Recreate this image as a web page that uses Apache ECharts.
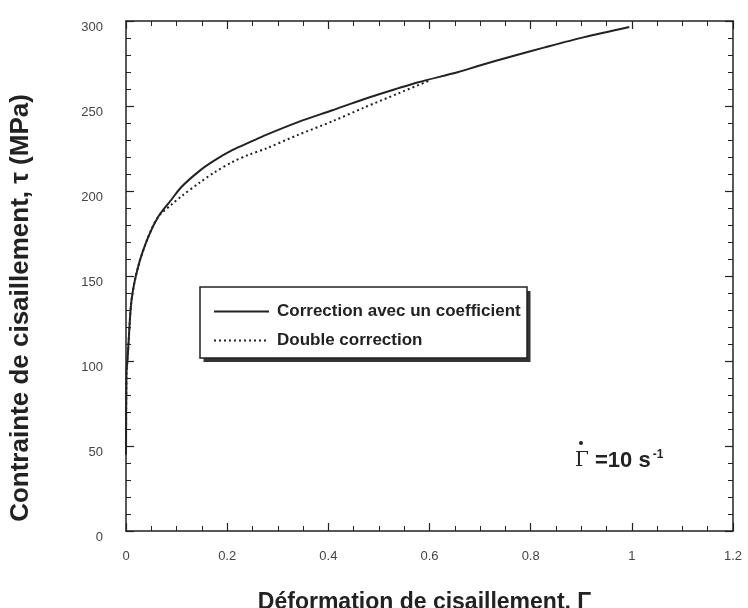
<!DOCTYPE html>
<html>
<head>
<meta charset="utf-8">
<script src="https://cdn.jsdelivr.net/npm/echarts@6/dist/echarts.min.js"></script>
<style>
html,body{margin:0;padding:0;background:#fff;}
#chart{width:748px;height:608px;}
</style>
</head>
<body>
<div id="chart"></div>
<script>
// Data
const seriesNames = ['Correction avec un coefficient', 'Double correction'];
const gammaSolid = [0, 0.001, 0.003, 0.0045, 0.011, 0.024, 0.044, 0.064, 0.09, 0.11, 0.146, 0.175, 0.21, 0.247, 0.277, 0.34, 0.408, 0.47, 0.539, 0.578, 0.657, 0.696, 0.76, 0.828, 0.906, 0.995];
const tauSolid   = [45, 93, 101, 108, 136, 155.5, 173, 185, 195, 202.5, 212, 218, 224, 229, 233, 240.5, 247.5, 254, 260.5, 264, 270, 273.5, 279, 284.5, 290.5, 296.5];
const gammaDouble = [0, 0.001, 0.003, 0.0045, 0.011, 0.024, 0.044, 0.064, 0.09, 0.11, 0.146, 0.175, 0.21, 0.24, 0.277, 0.34, 0.408, 0.47, 0.539, 0.6];
const tauDouble   = [45, 93, 101, 108, 136, 155.5, 173, 185, 192, 197, 205, 211, 217, 221, 225, 233, 241, 249, 257.5, 265];
const xTicks = [0, 0.2, 0.4, 0.6, 0.8, 1, 1.2];
const yTicks = [0, 50, 100, 150, 200, 250, 300];

const pairs = (xs, ys) => xs.map((x, i) => [x, ys[i]]);
const ink = '#222';
const labelColor = '#444';
const font = 'Liberation Sans, Arial, sans-serif';

function axisCommon(showLabel, isX) {
  return {
    min: isX ? xTicks[0] : yTicks[0],
    max: isX ? xTicks[xTicks.length - 1] : yTicks[yTicks.length - 1],
    interval: isX ? xTicks[1] - xTicks[0] : yTicks[1] - yTicks[0],
    axisLine: { show: true, onZero: false, lineStyle: { color: ink, width: 1.5 } },
    axisTick: { show: true, inside: true, length: 8, lineStyle: { color: ink, width: 1.2 } },
    minorTick: { show: true, splitNumber: isX ? 4 : 5, length: 5, lineStyle: { color: ink, width: 1 } },
    splitLine: { show: false },
    axisLabel: { show: showLabel }
  };
}

const chart = echarts.init(document.getElementById('chart'), null, { renderer: 'canvas' });
chart.setOption({
  animation: false,
  backgroundColor: '#fff',
  grid: { left: 126, right: 15, top: 21, bottom: 77, containLabel: false, outerBoundsMode: 'none' },
  xAxis: [
    Object.assign(axisCommon(true, true), {
      type: 'value', position: 'bottom',
      name: 'Déformation de cisaillement, Γ',
      nameLocation: 'middle', nameGap: 60,
      nameTextStyle: { fontFamily: font, fontWeight: 'bold', fontSize: 23, color: ink, padding: [0, 10, 0, 0] },
      axisLabel: {
        show: true, margin: 19, color: labelColor, fontFamily: font, fontSize: 13,
        formatter: v => String(v)
      }
    }),
    Object.assign(axisCommon(false, true), { type: 'value', position: 'top' })
  ],
  yAxis: [
    Object.assign(axisCommon(true, false), {
      type: 'value', position: 'left',
      axisLabel: {
        show: true, margin: 23, color: labelColor, fontFamily: font, fontSize: 13,
        verticalAlign: 'top'
      }
    }),
    Object.assign(axisCommon(false, false), { type: 'value', position: 'right' })
  ],
  legend: {
    orient: 'vertical',
    left: 200, top: 287, z: 10,
    data: seriesNames,
    itemWidth: 55, itemHeight: 14, itemGap: 12,
    padding: [16, 6, 10, 13],
    backgroundColor: 'transparent',
    borderWidth: 0,
    itemStyle: { color: 'rgba(0,0,0,0)', borderColor: 'rgba(0,0,0,0)', borderWidth: 0 },
    textStyle: { fontFamily: font, fontWeight: 'bold', fontSize: 17, color: ink, padding: [0, 0, 0, 3] }
  },
  series: [
    {
      name: seriesNames[0], type: 'line', xAxisIndex: 0, yAxisIndex: 0,
      data: pairs(gammaSolid, tauSolid), showSymbol: false, symbol: 'none', smooth: 0.3,
      lineStyle: { color: ink, width: 2 }, itemStyle: { color: ink }, z: 3
    },
    {
      name: seriesNames[1], type: 'line', xAxisIndex: 0, yAxisIndex: 0,
      data: pairs(gammaDouble, tauDouble), showSymbol: false, symbol: 'none', smooth: 0.3,
      lineStyle: { color: ink, width: 2, type: [2, 3] }, itemStyle: { color: ink }, z: 2
    }
  ],
  graphic: [
    {
      type: 'rect', z: 5, shape: { x: 203.5, y: 291, width: 327, height: 71 },
      style: { fill: '#333' }
    },
    {
      type: 'rect', z: 6, shape: { x: 200, y: 287, width: 327, height: 71 },
      style: { fill: '#fff', stroke: ink, lineWidth: 1.5 }
    },
    {
      type: 'text', x: 21, y: 308, rotation: Math.PI / 2,
      style: {
        text: 'Contrainte de cisaillement, τ (MPa)', fill: ink,
        font: 'bold 26px ' + font, align: 'center', verticalAlign: 'middle'
      }
    },
    {
      type: 'text', x: 575, y: 461,
      style: {
        text: '{g|Γ}{b| =10 s}{s|-1}',
        verticalAlign: 'middle', align: 'left',
        rich: {
          g: { fontFamily: 'DejaVu Serif, serif', fontSize: 20, fill: ink, fontWeight: 'normal' },
          b: { fontFamily: font, fontSize: 22, fontWeight: 'bold', fill: ink },
          s: { fontFamily: font, fontSize: 12, fontWeight: 'bold', fill: ink, verticalAlign: 'top', padding: [0, 0, 12, 2] }
        }
      }
    },
    {
      type: 'circle', shape: { cx: 581, cy: 443, r: 2 }, style: { fill: ink }
    }
  ]
});
</script>
</body>
</html>
